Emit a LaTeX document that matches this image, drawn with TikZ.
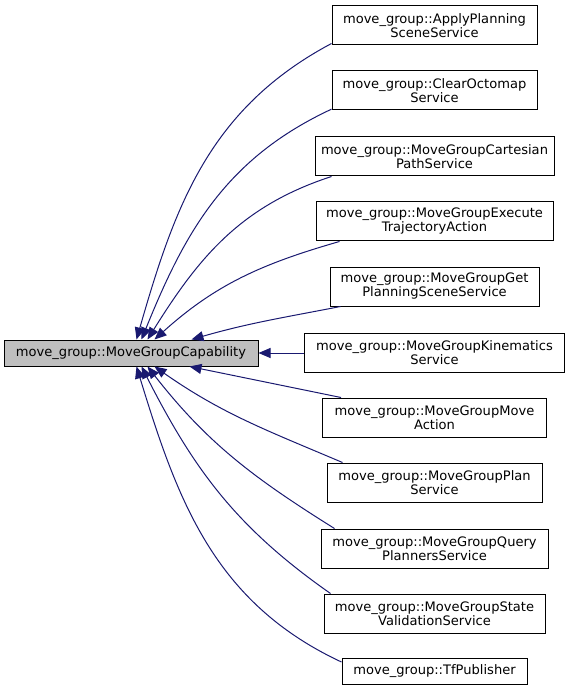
\documentclass[tikz,border=0pt]{standalone}
\usepackage{fontspec}
\setmainfont{DejaVu Sans}
\usetikzlibrary{arrows.meta}
\definecolor{edgeblue}{RGB}{25,25,112}
\definecolor{basegray}{RGB}{191,191,191}

\begin{document}
\begin{tikzpicture}[
            x=0.75pt, y=-0.75pt,
            classbox/.style={draw=black, line width=0.75pt, align=center, inner xsep=2pt, inner ysep=1pt,
                font=\fontsize{9.8}{10.5}\selectfont, minimum height=29.25pt},
            basebox/.style={classbox, fill=basegray, minimum height=19.5pt},
            leafbox/.style={classbox, minimum height=19.5pt},
            inherit/.style={draw=edgeblue, line width=0.75pt, -{Triangle[length=9pt,width=7.5pt]}, color=edgeblue}
        ]
            \useasboundingbox (0, 0) rectangle (569, 691);

            % base class
            \node[basebox, minimum width=190.5pt] (base) at (131, 353) {move\_group::MoveGroupCapability};

            % derived classes
            \node[classbox, minimum width=153.75pt] (apply) at (434.5, 25.5) {move\_group::ApplyPlanning\\SceneService};
            \node[classbox, minimum width=153.75pt] (clear) at (434.5, 90.5) {move\_group::ClearOctomap\\Service};
            \node[classbox, minimum width=179.25pt] (cartesian) at (434.5, 156.5) {move\_group::MoveGroupCartesian\\PathService};
            \node[classbox, minimum width=177.75pt] (execute) at (434.5, 221.5) {move\_group::MoveGroupExecute\\TrajectoryAction};
            \node[classbox, minimum width=156.75pt] (getscene) at (434.5, 286.5) {move\_group::MoveGroupGet\\PlanningSceneService};
            \node[classbox, minimum width=195pt] (kinematics) at (434.5, 353) {move\_group::MoveGroupKinematics\\Service};
            \node[classbox, minimum width=168pt] (moveaction) at (434.5, 417.5) {move\_group::MoveGroupMove\\Action};
            \node[classbox, minimum width=161.25pt] (plan) at (434.5, 482.5) {move\_group::MoveGroupPlan\\Service};
            \node[classbox, minimum width=170.25pt] (query) at (434.5, 548.5) {move\_group::MoveGroupQuery\\PlannersService};
            \node[classbox, minimum width=165.75pt] (validation) at (434.5, 613.5) {move\_group::MoveGroupState\\ValidationService};
            \node[leafbox, minimum width=138.75pt] (tf) at (434.5, 671.5) {move\_group::TfPublisher};

            % inheritance edges (above)
            \draw[inherit] ([yshift=1.5pt]apply.south west) to[out=208, in=74] ([xshift=99.75pt]base.north west);
            \draw[inherit] ([yshift=1pt]clear.south west) to[out=205, in=68] ([xshift=103.5pt]base.north west);
            \draw[inherit] ([xshift=12.75pt]cartesian.south west) to[out=198, in=58] ([xshift=108pt]base.north west);
            \draw[inherit] ([xshift=18pt]execute.south west) to[out=196, in=42] ([xshift=113.25pt]base.north west);
            \draw[inherit] ([xshift=8.25pt]getscene.south west) to[out=191, in=16] ([xshift=141pt]base.north west);

            % straight edge
            \draw[inherit] (kinematics.west) -- (base.east);

            % inheritance edges (below)
            \draw[inherit] ([xshift=14.25pt]moveaction.north west) -- ([xshift=139.5pt]base.south west);
            \draw[inherit] ([xshift=12pt]plan.north west) to[out=157, in=-35] ([xshift=113.25pt]base.south west);
            \draw[inherit] ([xshift=10.5pt]query.north west) to[out=148, in=-52] ([xshift=108pt]base.south west);
            \draw[inherit] ([xshift=5.25pt]validation.north west) to[out=145, in=-63] ([xshift=103.5pt]base.south west);
            \draw[inherit] ([yshift=-3pt]tf.north west) to[out=155, in=-73] ([xshift=99.75pt]base.south west);

        \end{tikzpicture}
\end{document}
